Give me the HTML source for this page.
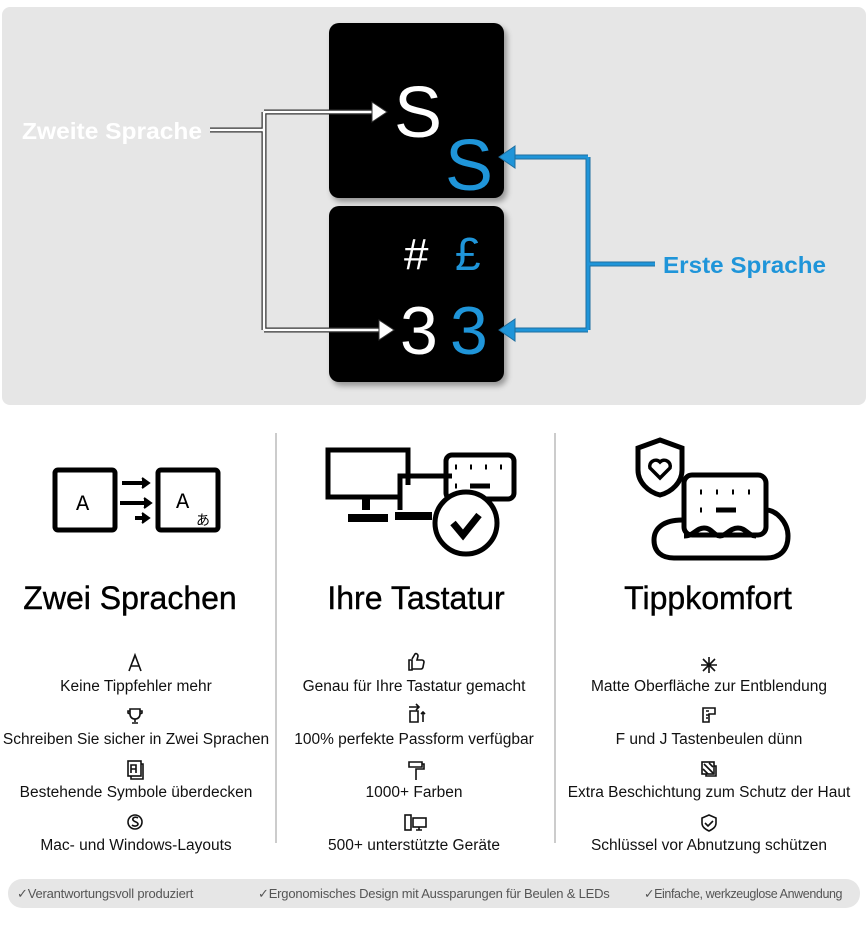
<!DOCTYPE html>
<html><head><meta charset="utf-8"><style>
body{margin:0;width:868px;height:929px;background:#fff;position:relative;overflow:hidden;font-family:"Liberation Sans",sans-serif}
.a{position:absolute}
.h{position:absolute;font-size:32px;color:#000;text-align:center;width:276px;top:580px;-webkit-text-stroke:0.4px #000}
.it{position:absolute;font-size:15.5px;color:#111;text-align:center;width:280px}
.ic{position:absolute}
.b{position:absolute;top:886px;font-size:13px;color:#555;white-space:nowrap;letter-spacing:-0.2px}
</style></head><body>
<div class="a" style="left:2px;top:7px;width:864px;height:398px;background:#e6e6e6;border-radius:8px"></div>
<div class="a" style="left:329px;top:23px;width:175px;height:175px;background:#000;border-radius:10px;box-shadow:3px 4px 6px rgba(0,0,0,.35)"></div>
<div class="a" style="left:329px;top:206px;width:175px;height:176px;background:#000;border-radius:10px;box-shadow:3px 4px 6px rgba(0,0,0,.35)"></div>
<svg class="a" style="left:0;top:0" width="868" height="420">
<g fill="#fff" font-family="Liberation Sans,sans-serif">
<text x="394" y="137" font-size="72">S</text>
<text x="400" y="354" font-size="68">3</text>
<text x="404" y="269" font-size="44">#</text>
<text x="22" y="139" font-size="23" font-weight="bold" textLength="180" lengthAdjust="spacingAndGlyphs">Zweite Sprache</text>
</g>
<g fill="#1f95d9" font-family="Liberation Sans,sans-serif">
<text x="445" y="190" font-size="72">S</text>
<text x="450" y="354" font-size="68">3</text>
<text x="455" y="270" font-size="46">£</text>
<text x="663" y="273" font-size="23" font-weight="bold" textLength="163" lengthAdjust="spacingAndGlyphs">Erste Sprache</text>
</g>
<path d="M210 130 H264 M264 112 V330 M264 112 H375 M264 330 H382" stroke="#333" stroke-width="5" fill="none"/>
<path d="M210 130 H264 M264 112 V330 M264 112 H375 M264 330 H382" stroke="#fff" stroke-width="2.5" fill="none"/>
<path d="M372 102 L387 112 L372 122Z M379 320 L394 330 L379 340Z" fill="#fff" stroke="#333"/>
<path d="M655 264 H588 M588 157 V330 M588 157 H512 M588 330 H512" stroke="#1f6fa0" stroke-width="5" fill="none"/>
<path d="M655 264 H588 M588 157 V330 M588 157 H512 M588 330 H512" stroke="#1f95d9" stroke-width="3" fill="none"/>
<path d="M515 146 L499 157 L515 168Z M515 319 L499 330 L515 341Z" fill="#1f95d9" stroke="#1f6fa0"/>
</svg>
<div class="a" style="left:275px;top:433px;width:2px;height:410px;background:#ccc"></div>
<div class="a" style="left:554px;top:433px;width:2px;height:410px;background:#ccc"></div>
<svg class="a" style="left:0;top:430px" width="868" height="150" fill="none" stroke="#000" stroke-width="5">
<rect x="55" y="40" width="60" height="60" rx="3"/><rect x="158" y="40" width="60" height="60" rx="3"/>
<text x="76" y="80" font-size="22" fill="#000" stroke="none" font-family="Liberation Mono,monospace">A</text>
<text x="176" y="78" font-size="22" fill="#000" stroke="none" font-family="Liberation Mono,monospace">A</text>
<text x="196" y="95" font-size="14" fill="#000" stroke="none" font-family="Noto Sans CJK JP,sans-serif">あ</text>
<path d="M122 53H145M120 73H147M135 88H145" stroke-width="4"/>
<path d="M142 48l7 5-7 5M144 68l7 5-7 5M142 83l7 5-7 5" fill="#000" stroke-width="2"/>
<path d="M408 55V20H328V67H400" /><path d="M366 69V80M348 88H388" stroke-width="8"/>
<rect x="446" y="25" width="68" height="44" rx="6"/>
<path d="M455 37h2M470 37h2M485 37h2M500 37h2M455 56h2M470 56h20" stroke-width="5"/>
<path d="M400 80V46H452"/><path d="M395 86H432" stroke-width="8"/>
<circle cx="466" cy="93" r="31" fill="#fff"/><path d="M453 93l10 12 16-20" stroke-width="7"/>
<path d="M660 10 l22 8 v22 c0 12-10 22-22 25 c-12-3-22-13-22-25 v-22z"/>
<path d="M660 48 l-10-10 a6 6 0 0 1 10-6 a6 6 0 0 1 10 6z" stroke-width="3.5"/>
<rect x="684" y="45" width="82" height="60" rx="8" fill="#fff"/>
<path d="M700 62h2M716 62h2M732 62h2M748 62h2M700 80h2M716 80h20" stroke-width="5"/>
<path d="M682 90 c-18 0-28 8-28 20 c0 12 8 18 20 18 h92 c14 0 22-8 22-22 c0-14-12-26-22-26 M684 106c10 0 12-8 20-8 s10 8 16 8 s10-8 18-8 s10 8 18 8" />
</svg>
<svg class="ic" style="left:0;top:0" width="868" height="860" fill="none" stroke="#111" stroke-width="1.6">
<path d="M129 671l6-16 6 16M131 666h8M135 655l-2 6"/>
<path d="M130 709h10v5c0 3-2 5-5 5s-5-2-5-5zM135 719v3M132 723h6M130 711h-2v2l2 1M140 711h2v2l-2 1"/>
<rect x="128" y="761" width="13" height="15"/><path d="M131 773v-8h5v8M131 769h5M141 764h2v15h-12v-3"/>
<circle cx="135" cy="822" r="7"/><path d="M138 818c-3-2-6 0-5 2s5 2 5 4-4 3-6 1"/>
<path d="M409 660h3v10h-3zM412 669h9c1 0 2-1 2-2l1-5c0-1-1-2-2-2h-5l1-4c0-2-2-3-3-2l-3 5"/>
<path d="M409 707h10M416 704l3 3-3 3M410 711h8v11h-8zM423 722v-10M421 714l2-2 2 2"/>
<path d="M409 762h13v5h-13zM422 764h2v5h-8v3M416 772v8"/>
<rect x="405" y="815" width="6" height="15"/><rect x="413" y="818" width="13" height="9"/><path d="M419 827v3M416 830h6"/>
<path d="M709 657v16M701 665h16M703 659l12 12M715 659l-12 12"/>
<path d="M703 708h12v6h-6v8h-6zM706 711h3M706 715h3M706 718h2"/>
<rect x="702" y="762" width="12" height="12"/><path d="M704 764l9 9M703 769l5 5M709 763l4 4" /><path d="M714 766h2v10h-10v-2"/>
<path d="M709 815l7 3v5c0 4-3 6-7 8-4-2-7-4-7-8v-5zM705 823l3 3 5-5"/>
</svg>
<div class="h" style="left:-8px">Zwei Sprachen</div>
<div class="h" style="left:278px">Ihre Tastatur</div>
<div class="h" style="left:570px">Tippkomfort</div>
<div class="it" style="left:-4px;top:678px">Keine Tippfehler mehr</div>
<div class="it" style="left:-4px;top:731px">Schreiben Sie sicher in Zwei Sprachen</div>
<div class="it" style="left:-4px;top:784px">Bestehende Symbole überdecken</div>
<div class="it" style="left:-4px;top:837px">Mac- und Windows-Layouts</div>
<div class="it" style="left:274px;top:678px">Genau für Ihre Tastatur gemacht</div>
<div class="it" style="left:274px;top:731px">100% perfekte Passform verfügbar</div>
<div class="it" style="left:274px;top:784px">1000+ Farben</div>
<div class="it" style="left:274px;top:837px">500+ unterstützte Geräte</div>
<div class="it" style="left:569px;top:678px">Matte Oberfläche zur Entblendung</div>
<div class="it" style="left:569px;top:731px">F und J Tastenbeulen dünn</div>
<div class="it" style="left:563px;top:784px;width:292px">Extra Beschichtung zum Schutz der Haut</div>
<div class="it" style="left:569px;top:837px">Schlüssel vor Abnutzung schützen</div>
<div class="a" style="left:8px;top:879px;width:852px;height:29px;background:#e6e6e6;border-radius:14px"></div>
<div class="b" style="left:17px">✓Verantwortungsvoll produziert</div>
<div class="b" style="left:258px">✓Ergonomisches Design mit Aussparungen für Beulen &amp; LEDs</div>
<div class="b" style="left:644px;font-size:12.5px;letter-spacing:-0.4px">✓Einfache, werkzeuglose Anwendung</div>
</body></html>
